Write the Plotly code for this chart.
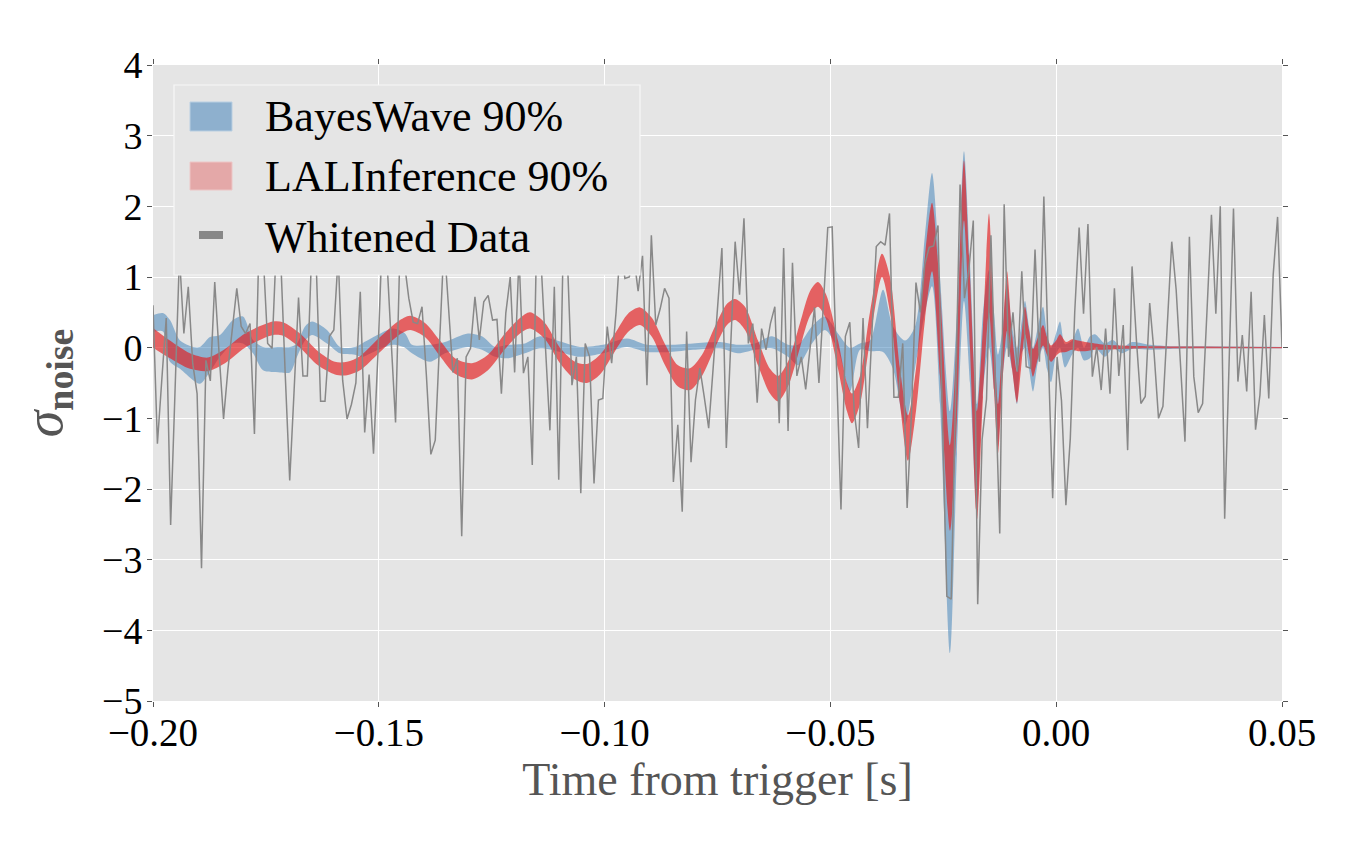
import plotly.graph_objects as go

FS = 1024.0
# Whitened data (one sample every 1/1024 s from -0.2 s)
whitened = [
    0.6, -1.36, -0.45, 0.42, -2.51, -0.5, 1.3, 0.2, 0.86, -0.22,
    -0.65, -3.12, -0.18, -0.47, 0.93, -0.1, -1.01, -0.3, 0.3, 0.84,
    0.3, 0.2, 0.34, -1.22, 1.4, 1.3, 0.06, -0.01, 1.5, 1.2,
    -0.4, -1.88, -0.6, 0.71, -0.4, -0.4, 1.4, 1.2, -0.76, -0.76,
    0.16, 0.25, 1.3, -0.46, -1.01, -0.8, -0.5, 0.79, -1.2, -0.38,
    -1.5, -0.1, 1.6, 1.3, 0.1, -1.06, 1.4, 1.2, 0.7, 0.36,
    0.34, 0.58, -0.4, -1.51, -1.31, 0.2, 1.5, 0.58, -0.35, -0.15,
    -2.67, -0.13, -0.01, 0.72, 0.11, 0.65, 0.74, 0.39, 0.4, -0.65,
    0.49, 1.0, -0.35, 1.3, -0.36, -0.13, -1.66, 1.6, 1.2, 0.0,
    -1.17, 0.86, -1.87, 1.4, 1.2, -0.53, -0.13, -2.06, 0.06, -0.13,
    -1.92, -0.74, -0.72, 0.3, -0.22, 0.5, 1.5, 0.98, 1.0, 1.3,
    0.8, 1.3, -0.53, 1.59, 0.32, 0.55, 0.84, 0.7, -1.9, -1.09,
    -2.32, 0.23, -1.62, -0.74, -0.29, -0.7, -1.14, -0.3, 0.5, 1.41,
    -1.42, 0.0, 1.5, 0.75, 1.83, 0.06, 0.34, -0.78, 0.27, -0.03,
    0.34, 0.58, -1.07, 1.41, -1.18, 1.2, -0.4, -0.13, -0.59, 0.0,
    0.57, -0.5, 0.6, 1.7, 1.71, -0.3, -2.29, 0.16, 0.36, -0.9,
    -1.42, 0.42, -1.14, 0.2, 1.43, 1.5, 1.45, 1.9, -0.7, -0.7,
    0.06, -2.27, -0.9, 0.92, 0.5, 1.18, 1.42, 1.44, 1.73, -1.0,
    -3.52, -3.56, -0.6, 2.31, 0.7, 1.1, 1.8, -3.63, -1.3, -0.73,
    1.59, -0.55, -2.63, 2.03, -0.13, 0.5, -0.34, 1.08, -0.27, -0.29,
    1.39, -0.2, 2.14, -0.1, -2.13, -0.13, -0.75, -2.23, -1.28, 0.5,
    1.70, 0.48, 1.75, -0.41, 0.01, -0.60, 0.27, -0.65, 0.84, -0.40,
    0.32, -1.45, 1.15, 0.1, -0.79, -0.69, 0.63, -0.08, -1.0, -0.83,
    0.35, 1.5, 0.82, -0.27, -1.33, 1.57, -0.41, -0.92, -0.79, 0.53,
    1.88, 0.48, 2.0, -2.42, -0.22, 1.97, -0.48, 0.18, -0.62, 0.79,
    -1.16, -0.67, 0.46, -0.72, 1.03, 1.85, 0.01,
]
t_data = [-0.2 + i / FS for i in range(len(whitened))]

# LALInference 90% band
li_t = [-0.2, -0.19624, -0.19181, -0.18782, -0.18406, -0.17963, -0.17343, -0.17121,
        -0.16745, -0.16346, -0.15970, -0.15704, -0.15416, -0.14973, -0.14575, -0.14309,
        -0.13977, -0.13645, -0.13313, -0.12936, -0.12582, -0.12206, -0.11873, -0.11652,
        -0.11320, -0.10988, -0.10655, -0.10390, -0.10102, -0.09770, -0.09482, -0.09216,
        -0.08950, -0.08662, -0.08375, -0.08109, -0.07843, -0.07556, -0.07290, -0.07113,
        -0.06891, -0.06603, -0.06338, -0.06160, -0.05939, -0.05673, -0.05452, -0.05275,
        -0.05093, -0.04832, -0.04633, -0.04522, -0.04345, -0.04124, -0.03858, -0.03680,
        -0.03459, -0.03282, -0.03105, -0.02905, -0.02750, -0.02573, -0.02352, -0.02197,
        -0.02042, -0.01909, -0.01754, -0.01621, -0.01488, -0.01377, -0.01289, -0.01200,
        -0.01089, -0.00978, -0.00868, -0.00779, -0.00691, -0.00602, -0.00513, -0.00403,
        -0.00292, -0.00204, -0.00115, -0.00004, 0.00084, 0.00217, 0.00350, 0.00483,
        0.00638, 0.00859, 0.01081, 0.01413, 0.02077, 0.03184, 0.05]
li_hi = [0.28, 0.10, -0.08, -0.14, -0.02, 0.20, 0.37, 0.36,
         0.20, -0.05, -0.20, -0.20, -0.12, 0.15, 0.37, 0.45,
         0.35, 0.10, -0.15, -0.22, -0.10, 0.20, 0.42, 0.50,
         0.35, 0.00, -0.20, -0.23, -0.10, 0.20, 0.48, 0.57,
         0.42, 0.05, -0.25, -0.29, -0.10, 0.30, 0.62, 0.69,
         0.58, 0.10, -0.30, -0.40, -0.20, 0.35, 0.80, 0.93,
         0.75, 0.10, -0.50, -0.65, -0.40, 0.50, 1.33, 1.00,
         -0.30, -0.96, -0.30, 1.30, 2.05, 0.80, -1.38, 0.20,
         2.65, 1.00, -0.90, 0.30, 1.90, 0.30, -0.80, 0.00,
         1.08, 0.20, -0.34, 0.10, 0.58, 0.25, -0.02, 0.15,
         0.32, 0.15, 0.03, 0.10, 0.19, 0.08, 0.12, 0.10,
         0.08, 0.06, 0.04, 0.03, 0.02, 0.015, 0.01]
li_lo = [0.00, -0.15, -0.30, -0.33, -0.22, 0.00, 0.18, 0.17,
         0.00, -0.25, -0.38, -0.39, -0.32, -0.06, 0.17, 0.25,
         0.15, -0.12, -0.37, -0.45, -0.32, -0.02, 0.20, 0.27,
         0.12, -0.22, -0.45, -0.50, -0.38, -0.05, 0.22, 0.32,
         0.15, -0.25, -0.55, -0.60, -0.40, 0.00, 0.32, 0.39,
         0.25, -0.25, -0.65, -0.76, -0.55, 0.00, 0.45, 0.58,
         0.40, -0.30, -0.90, -1.07, -0.80, 0.10, 1.00, 0.50,
         -0.80, -1.60, -0.90, 0.40, 1.08, -0.40, -2.59, -1.00,
         1.80, 0.00, -2.43, -0.70, 0.50, -0.60, -1.50, -0.60,
         0.24, -0.30, -0.78, -0.30, 0.19, -0.10, -0.41, -0.15,
         0.03, -0.10, -0.20, -0.12, -0.07, -0.06, -0.03, -0.05,
         -0.05, -0.03, -0.03, -0.02, -0.01, -0.01, -0.01]

# BayesWave 90% band
bw_t = [-0.2, -0.19779, -0.19624, -0.19402, -0.19114, -0.18959, -0.18738, -0.18516,
        -0.18229, -0.18007, -0.17786, -0.17564, -0.17188, -0.16966, -0.16811, -0.16634,
        -0.16479, -0.16147, -0.15859, -0.15527, -0.15372, -0.15084, -0.14686, -0.14420,
        -0.14265, -0.13866, -0.13534, -0.13025, -0.12715, -0.12427, -0.12139, -0.11763,
        -0.11430, -0.11054, -0.10545, -0.10035, -0.09504, -0.09061, -0.08552, -0.08043,
        -0.07445, -0.07046, -0.06670, -0.06293, -0.05939, -0.05717, -0.05408, -0.05120,
        -0.04832, -0.04566, -0.04345, -0.04124, -0.03835, -0.03614, -0.03348, -0.03127,
        -0.02905, -0.02750, -0.02573, -0.02352, -0.02197, -0.02042, -0.01909, -0.01754,
        -0.01621, -0.01488, -0.01377, -0.01289, -0.01200, -0.01089, -0.00978, -0.00868,
        -0.00779, -0.00691, -0.00602, -0.00513, -0.00403, -0.00292, -0.00204, -0.00115,
        -0.00004, 0.00084, 0.00195, 0.00350, 0.00483, 0.00616, 0.00748, 0.00859,
        0.01081, 0.01258, 0.01457, 0.01678, 0.02077, 0.02520, 0.03184, 0.05]
bw_hi = [0.46, 0.49, 0.39, 0.10, 0.01, 0.01, 0.15, 0.18,
         0.39, 0.44, 0.11, 0.01, 0.01, 0.01, 0.06, 0.30,
         0.37, 0.25, 0.01, 0.01, 0.06, 0.16, 0.27, 0.20,
         0.04, 0.04, 0.08, 0.20, 0.16, 0.01, 0.04, 0.06,
         0.16, 0.10, 0.01, 0.04, 0.13, 0.04, 0.04, 0.06,
         0.08, 0.04, 0.06, 0.16, 0.04, 0.04, 0.30, 0.44,
         0.20, 0.00, 0.06, 0.10, 0.82, 0.30, 0.10, 0.30,
         1.60, 2.47, 1.00, -0.90, 0.50, 2.78, 1.20, -0.80,
         0.50, 1.10, 0.50, -0.10, 0.20, 0.90, 0.30, 0.00,
         0.30, 0.66, 0.30, 0.00, 0.30, 0.58, 0.20, 0.00,
         0.20, 0.37, 0.05, 0.10, 0.27, 0.00, 0.16, 0.19,
         0.06, 0.11, 0.00, 0.08, 0.04, 0.02, 0.02, 0.01]
bw_lo = [0.22, 0.23, -0.20, -0.30, -0.46, -0.51, -0.34, -0.13,
         0.06, 0.06, -0.08, -0.32, -0.35, -0.35, -0.13, 0.10,
         0.18, 0.06, -0.08, -0.10, -0.13, -0.05, 0.04, 0.00,
         -0.08, -0.20, -0.08, 0.01, -0.03, -0.13, -0.15, -0.08,
         -0.01, -0.05, -0.13, -0.08, 0.01, -0.06, -0.06, -0.03,
         -0.01, -0.08, -0.03, -0.01, -0.13, -0.25, 0.06, 0.25,
         -0.03, -0.62, -0.03, -0.05, -0.06, -0.30, -1.10, -0.30,
         0.50, 0.87, -0.80, -4.32, -1.50, 0.66, -0.50, -2.30,
         -0.60, 0.00, -0.60, -1.40, -0.50, 0.00, -0.30, -0.80,
         -0.10, 0.00, -0.30, -0.62, -0.20, 0.00, -0.30, -0.49,
         -0.10, 0.00, -0.28, -0.10, 0.00, -0.18, -0.15, 0.00,
         -0.13, -0.01, -0.08, -0.02, -0.03, -0.02, -0.01, -0.01]

x_ticks = [-0.20, -0.15, -0.10, -0.05, 0.00, 0.05]
x_ticktext = ["\u22120.20", "\u22120.15", "\u22120.10", "\u22120.05", "0.00", "0.05"]
y_ticks = [-5, -4, -3, -2, -1, 0, 1, 2, 3, 4]
y_ticktext = ["\u22125", "\u22124", "\u22123", "\u22122", "\u22121", "0", "1", "2", "3", "4"]
legend_labels = ["BayesWave 90%", "LALInference 90%", "Whitened Data"]

BLUE_FILL = "rgba(55,126,184,0.5)"
RED_FILL = "rgba(228,26,28,0.65)"
BLUE_LEG = "rgb(142,176,206)"
RED_LEG = "rgb(228,168,168)"
GRAY = "#888888"
BG = "#E5E5E5"
FONT = "Liberation Serif"

# page offset (browser body margin) compensation
W, H = 1345, 825
L, R, T, B = 145, 71, 57, 132

fig = go.Figure()
sp = dict(width=0, shape="spline", smoothing=0.8)
fig.add_trace(go.Scatter(x=bw_t, y=bw_lo, mode="lines", line=sp, showlegend=False, hoverinfo="skip"))
fig.add_trace(go.Scatter(x=bw_t, y=bw_hi, mode="lines", line=sp, fill="tonexty", fillcolor=BLUE_FILL,
                         name=legend_labels[0], showlegend=False, hoverinfo="skip"))
fig.add_trace(go.Scatter(x=li_t, y=li_lo, mode="lines", line=sp, showlegend=False, hoverinfo="skip"))
fig.add_trace(go.Scatter(x=li_t, y=li_hi, mode="lines", line=sp, fill="tonexty", fillcolor=RED_FILL,
                         name=legend_labels[1], showlegend=False, hoverinfo="skip"))
fig.add_trace(go.Scatter(x=t_data, y=whitened, mode="lines", line=dict(color=GRAY, width=1.5),
                         name=legend_labels[2], showlegend=False))

# Manual legend (paper coordinates), drawn above the data
pw, ph = 1129.0, 636.0
def px(X):
    return (X - 153) / pw
def py(Y):
    return (701 - Y) / ph

shapes = [
    dict(type="rect", xref="paper", yref="paper", x0=px(174), x1=px(640), y0=py(275), y1=py(85),
         fillcolor=BG, line=dict(color="#F7F7F7", width=1.2), layer="above"),
    dict(type="rect", xref="paper", yref="paper", x0=px(190), x1=px(232), y0=py(131), y1=py(102),
         fillcolor=BLUE_LEG, line=dict(color="#B9CFE2", width=1), layer="above"),
    dict(type="rect", xref="paper", yref="paper", x0=px(190), x1=px(232), y0=py(190), y1=py(162),
         fillcolor=RED_LEG, line=dict(color="#EDC6C6", width=1), layer="above"),
    dict(type="line", xref="paper", yref="paper", x0=px(199), x1=px(223), y0=py(235), y1=py(235),
         line=dict(color=GRAY, width=8), layer="above"),
]
annotations = []
for lab, yc in zip(legend_labels, [117, 177, 237]):
    annotations.append(dict(xref="paper", yref="paper", x=px(263), y=py(yc), xanchor="left", yanchor="middle",
                            text=lab, showarrow=False, font=dict(family=FONT, size=44, color="black")))

fig.update_layout(
    width=W, height=H,
    margin=dict(l=L, r=R, t=T, b=B, autoexpand=False),
    paper_bgcolor="white", plot_bgcolor=BG,
    font=dict(family=FONT, color="black", size=39),
    showlegend=False,
    shapes=shapes, annotations=annotations,
)
fig.update_xaxes(range=[-0.2, 0.05], tickvals=x_ticks, ticktext=x_ticktext,
                 showgrid=True, gridcolor="white", gridwidth=1, zeroline=False,
                 ticks="outside", ticklen=5, tickcolor="#555555", mirror="ticks", showline=False,
                 ticklabelstandoff=-8,
                 tickfont=dict(family=FONT, size=39, color="black"),
                 title=dict(text="Time from trigger [s]", font=dict(family=FONT, size=46, color="#555555"),
                            standoff=2))
fig.update_yaxes(range=[-5, 4], tickvals=y_ticks, ticktext=y_ticktext,
                 showgrid=True, gridcolor="white", gridwidth=1, zeroline=False,
                 ticks="outside", ticklen=5, tickcolor="#555555", mirror="ticks", showline=False,
                 ticklabelstandoff=-3,
                 tickfont=dict(family=FONT, size=38, color="black"),
                 title=dict(text="<i>σ</i><sub><b>noise</b></sub>", font=dict(family=FONT, size=54, color="#555555"),
                            standoff=22))

fig.write_html("out.html")
